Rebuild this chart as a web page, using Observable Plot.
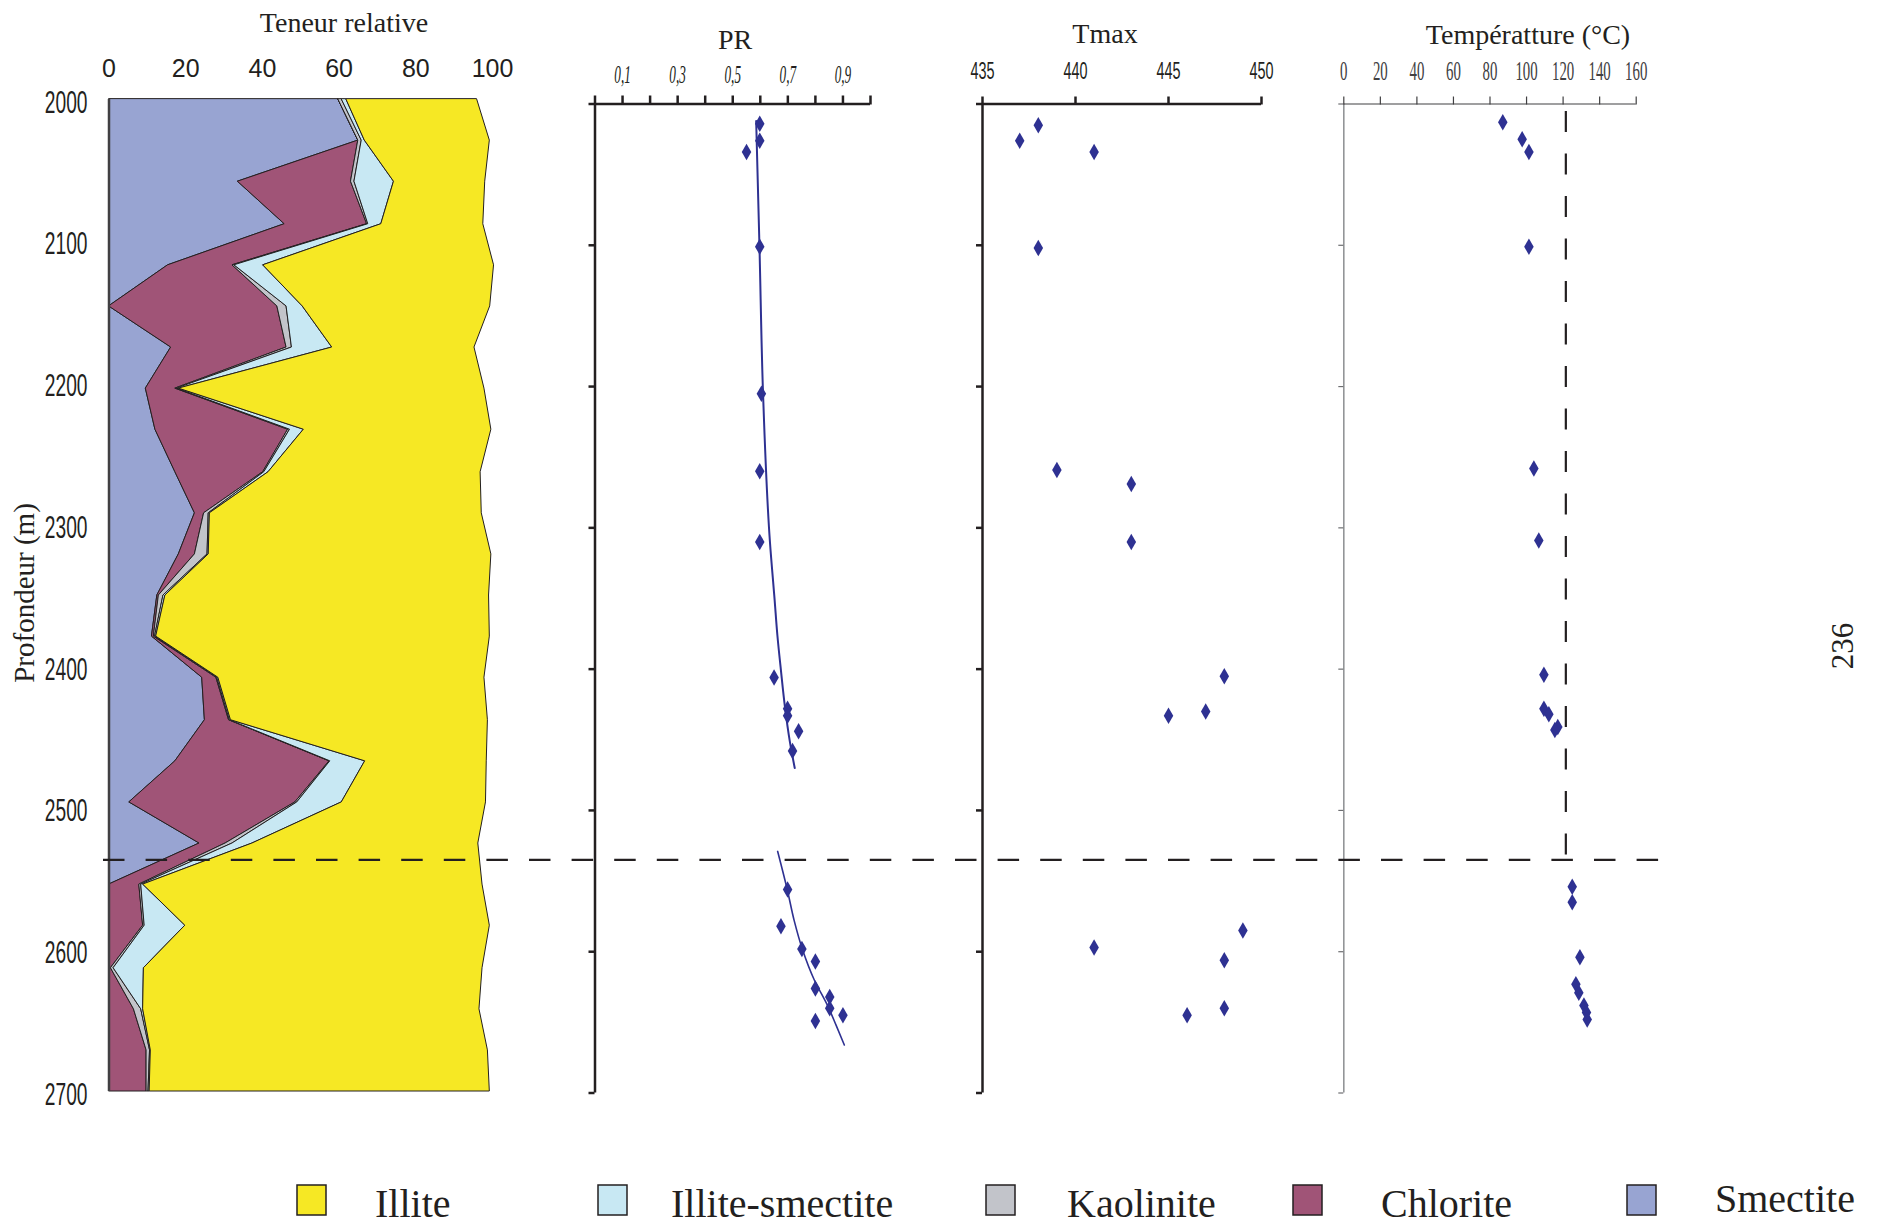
<!DOCTYPE html>
<html><head><meta charset="utf-8">
<script src="https://cdn.jsdelivr.net/npm/d3@7"></script>
<script src="https://cdn.jsdelivr.net/npm/@observablehq/plot@0.6"></script>
<style>
html,body{margin:0;padding:0;background:#fff;}
#root{position:relative;width:1880px;height:1225px;overflow:hidden;background:#fff;}
#root svg{position:absolute;left:0;top:0;}
</style></head><body><div id="root"></div>
<script>
// ---------------- DATA ----------------
const depthDomain = [2000, 2700];
const depthTicks = [2000, 2100, 2200, 2300, 2400, 2500, 2600, 2700];
const boundaryDepth = [2535];

// Relative clay content (%)
const depths = [2000, 2029, 2058, 2088, 2117, 2146, 2175, 2204, 2233, 2263, 2292, 2321, 2350, 2379, 2408, 2438, 2467, 2496, 2525, 2554, 2583, 2613, 2642, 2671, 2700];
const minerals = ["Smectite", "Chlorite", "Kaolinite", "Illite-smectite", "Illite"];
const mineralColors = ["#98a4d2", "#a05477", "#c2c4ca", "#c8e8f3", "#f6e824"];
const smectite = [59.8, 65.0, 33.6, 45.8, 15.4, 0, 16.2, 9.6, 12.1, 17.3, 22.4, 18.2, 12.6, 11.2, 24.3, 25.0, 17.3, 5.3, 23.6, 0, 0, 0, 0, 0, 0];
const chlorite = [0, 0, 29.5, 21.5, 16.8, 43.9, 30.1, 7.7, 34.6, 22.9, 2.4, 4.2, 0.4, 0.5, 3.7, 6.3, 40.2, 43.3, 6.8, 7.9, 8.9, 0.5, 6.5, 9.8, 9.8];
const kaolinite = [0.9, 0.9, 0.9, 0.3, 0.5, 2.4, 1.4, 0.4, 0.5, 0.3, 1.2, 3.3, 1.2, 0.3, 0.2, 0.2, 0.2, 0.5, 1.8, 0.5, 0.4, 0.7, 1.9, 0.9, 0.5];
const illiteSmectite = [1.2, 0.8, 10.3, 3.4, 7.5, 4.2, 10.5, 0.5, 3.6, 1.1, 0.3, 0.3, 0.5, 0.3, 0.3, 0.3, 9.1, 11.6, 5.2, 0.5, 10.6, 7.9, 0.5, 0.2, 0.3];
const illite = [34.1, 32.6, 23.8, 26.6, 60.2, 48.9, 37.1, 79.7, 48.9, 55.3, 70.9, 73.7, 84.4, 87.0, 69.4, 67.0, 31.7, 37.6, 58.9, 88.5, 79.4, 88.3, 87.7, 87.9, 88.7];
const teneurTicks = [0, 20, 40, 60, 80, 100];

// PR (vitrinite reflectance)
const prDepth = [2014, 2026, 2034, 2101, 2205, 2260, 2310, 2406, 2428, 2433, 2444, 2458, 2556, 2582, 2598, 2607, 2626, 2632, 2640, 2645, 2649];
const prValues = [0.598, 0.598, 0.55, 0.598, 0.604, 0.598, 0.598, 0.65, 0.699, 0.699, 0.739, 0.717, 0.699, 0.675, 0.751, 0.80, 0.80, 0.852, 0.852, 0.90, 0.80];
const trendUpperDepth = [2012, 2101, 2205, 2310, 2351, 2376, 2401, 2426, 2451, 2470];
const trendUpperPR = [0.585, 0.597, 0.61, 0.635, 0.652, 0.662, 0.675, 0.689, 0.707, 0.725];
const trendLowerDepth = [2529, 2557, 2578, 2599, 2620, 2638, 2652, 2666];
const trendLowerPR = [0.663, 0.699, 0.723, 0.754, 0.796, 0.844, 0.875, 0.905];
const prTicks = [0, 0.1, 0.2, 0.3, 0.4, 0.5, 0.6, 0.7, 0.8, 0.9, 1.0];
const prLabels = [0.1, 0.3, 0.5, 0.7, 0.9];

// Tmax
const tmaxDepth = [2015, 2026, 2034, 2102, 2259, 2269, 2310, 2405, 2430, 2433, 2585, 2597, 2606, 2640, 2645];
const tmaxValues = [438, 437, 441, 438, 439, 443, 443, 448, 447, 445, 449, 441, 448, 448, 446];
const tmaxTicks = [435, 440, 445, 450];

// Temperature
const tempDepth = [2013, 2025, 2034, 2101, 2258, 2309, 2404, 2428, 2432, 2441, 2443, 2554, 2565, 2604, 2623, 2629, 2638, 2643, 2648];
const tempValues = [87, 97.6, 101.3, 101.3, 104, 106.7, 109.5, 109.5, 112.2, 117.1, 115.5, 125, 125, 129.2, 127, 128.6, 131.4, 132.8, 133.2];
const tempTicks = [0, 20, 40, 60, 80, 100, 120, 140, 160];
const tempThreshold = [121.5];

// Legend
const legendOrder = ["Illite", "Illite-smectite", "Kaolinite", "Chlorite", "Smectite"];

// ---------------- LAYOUT ----------------
const W = 1880, H = 1225;
const INK = "#231f20", BLUE = "#2e3192";
const root = document.getElementById("root");

function squeeze(svg, sel, sx) {
  svg.querySelectorAll(sel).forEach(t => {
    const tr = t.getAttribute("transform");
    if (tr && tr.includes("translate")) t.setAttribute("transform", tr + ` scale(${sx},1)`);
    else {
      const x = +t.getAttribute("x") || 0, y = +t.getAttribute("y") || 0;
      t.setAttribute("x", 0); t.setAttribute("y", 0);
      t.setAttribute("transform", `translate(${x},${y}) scale(${sx},1)`);
    }
  });
}
const XL = 'g[aria-label="x-axis tick label"] text';
const YL = 'g[aria-label="y-axis tick label"] text';
function panel(o) {
  const svg = Plot.plot({
    width: W, height: H,
    marginLeft: o.left, marginRight: W - o.right, marginTop: o.top, marginBottom: H - o.bottom,
    x: {domain: o.xDomain, label: null},
    y: {domain: depthDomain, reverse: true, label: null},
    color: o.color,
    style: {background: "transparent", overflow: "visible", fontFamily: "Liberation Sans", color: INK},
    marks: o.marks
  });
  root.appendChild(svg);
  return svg;
}
const pts = (ds, vs, k) => ds.map((d, i) => ({depth: d, [k]: vs[i]}));
const plain = d => String(d);

// Panel 1: stacked relative content
const series = {"Smectite": smectite, "Chlorite": chlorite, "Kaolinite": kaolinite, "Illite-smectite": illiteSmectite, "Illite": illite};
const rows = minerals.flatMap(m => depths.map((d, i) => ({depth: d, mineral: m, value: series[m][i]})));
const p1 = panel({
  left: 108.5, right: 492, top: 99, bottom: 1091, xDomain: [0, 100],
  color: {domain: minerals, range: mineralColors},
  marks: [
    Plot.areaX(rows, {y: "depth", x: "value", fill: "mineral", z: "mineral", order: minerals, stroke: INK, strokeWidth: 1, curve: "linear"}),
    Plot.ruleX([0], {stroke: "#414042", strokeWidth: 2.5}),
    Plot.axisX(teneurTicks, {anchor: "top", label: null, tickSize: 0, tickPadding: 31, lineAnchor: "middle", tickFormat: plain, fontSize: 25, fontFamily: "Liberation Sans", color: INK}),
    Plot.axisY(depthTicks, {anchor: "left", label: null, tickSize: 0, tickPadding: 21.5, dy: 3, tickFormat: plain, fontSize: 32, fontFamily: "Liberation Sans", color: INK})
  ]
});
squeeze(p1, YL, 0.6);

// Panel 2: PR
const p2 = panel({
  left: 594.5, right: 870, top: 103.5, bottom: 1092.5, xDomain: [0, 1],
  marks: [
    Plot.ruleY([depthDomain[0]], {stroke: INK, strokeWidth: 2.5}),
    Plot.ruleX([0], {stroke: INK, strokeWidth: 2.5}),
    Plot.axisX(prTicks, {anchor: "top", label: null, tickSize: 9, tickPadding: 20, strokeWidth: 2.5, lineAnchor: "middle",
      tickFormat: d => prLabels.includes(d) ? d3.format(".1f")(d).replace(".", ",") : "",
      fontSize: 25, fontStyle: "italic", fontFamily: "Liberation Serif", color: INK}),
    Plot.axisY(depthTicks, {anchor: "left", label: null, tickSize: 6, strokeWidth: 2.5, tickFormat: () => "", color: INK}),
    Plot.line(pts(trendUpperDepth, trendUpperPR, "pr"), {x: "pr", y: "depth", stroke: BLUE, strokeWidth: 2, curve: "monotone-y"}),
    Plot.line(pts(trendLowerDepth, trendLowerPR, "pr"), {x: "pr", y: "depth", stroke: BLUE, strokeWidth: 1.6, curve: "monotone-y"}),
    Plot.dot(pts(prDepth, prValues, "pr"), {x: "pr", y: "depth", symbol: "diamond", r: 5, fill: BLUE, stroke: "none"})
  ]
});
squeeze(p2, XL, 0.53);

// Panel 3: Tmax
const p3 = panel({
  left: 982, right: 1261, top: 103.5, bottom: 1092.5, xDomain: [435, 450],
  marks: [
    Plot.ruleY([depthDomain[0]], {stroke: INK, strokeWidth: 2.5}),
    Plot.ruleX([tmaxTicks[0]], {stroke: INK, strokeWidth: 2.5}),
    Plot.axisX(tmaxTicks, {anchor: "top", label: null, tickSize: 8, tickPadding: 24.7, strokeWidth: 2.5, lineAnchor: "middle",
      tickFormat: plain, fontSize: 24, fontFamily: "Liberation Sans", color: INK}),
    Plot.axisY(depthTicks, {anchor: "left", label: null, tickSize: 6, strokeWidth: 2.5, tickFormat: () => "", color: INK}),
    Plot.dot(pts(tmaxDepth, tmaxValues, "t"), {x: "t", y: "depth", symbol: "diamond", r: 5, fill: BLUE, stroke: "none"})
  ]
});
squeeze(p3, XL, 0.6);

// Panel 4: Temperature
const p4 = panel({
  left: 1343.3, right: 1635.7, top: 103.5, bottom: 1092.5, xDomain: [0, 160],
  marks: [
    Plot.ruleX([0], {stroke: "#939598", strokeWidth: 1.6}),
    Plot.ruleY([depthDomain[0]], {stroke: "#414042", strokeWidth: 1.2}),
    Plot.axisX(tempTicks, {anchor: "top", label: null, tickSize: 8, tickPadding: 24.7, strokeWidth: 1.2, lineAnchor: "middle",
      tickFormat: plain, fontSize: 27, fontFamily: "Liberation Serif", color: "#414042"}),
    Plot.axisY(depthTicks, {anchor: "left", label: null, tickSize: 5, strokeWidth: 1.2, tickFormat: () => "", color: "#6d6e71"}),
    Plot.ruleX(tempThreshold, {y1: depthDomain[0], y2: boundaryDepth[0], stroke: INK, strokeWidth: 2.2, strokeDasharray: "21,21.5", strokeDashoffset: 35}),
    Plot.dot(pts(tempDepth, tempValues, "t"), {x: "t", y: "depth", symbol: "diamond", r: 5, fill: BLUE, stroke: "none"})
  ]
});
squeeze(p4, XL, 0.55);

// Overlay: horizontal dashed boundary across all panels
const ov = Plot.plot({
  width: W, height: H, marginLeft: 103, marginRight: W - 1659, marginTop: 103.5, marginBottom: H - 1092.5,
  y: {domain: depthDomain, reverse: true, axis: null},
  style: {background: "transparent", overflow: "visible"},
  marks: [Plot.ruleY(boundaryDepth, {stroke: INK, strokeWidth: 2.2, strokeDasharray: "21.5,21.1"})]
});
root.appendChild(ov);

// Titles, axis title, page number, legend
const ann = d3.select(root).append("svg").attr("width", W).attr("height", H)
  .style("font-family", "Liberation Serif").style("fill", INK);
const titles = [
  ["Teneur relative", 344, 32], ["PR", 735, 49], ["Tmax", 1105, 43], ["Températture (°C)", 1528, 44]
];
titles.forEach(([t, x, y]) => ann.append("text").attr("x", x).attr("y", y).attr("text-anchor", "middle").attr("font-size", 28).text(t));
ann.append("text").attr("transform", "translate(34,593) rotate(-90)").attr("text-anchor", "middle").attr("font-size", 29).text("Profondeur (m)");
ann.append("text").attr("transform", "translate(1853,646) rotate(-90)").attr("text-anchor", "middle").attr("font-size", 31).text("236");

const swatchX = [297, 598, 986, 1293, 1627];
const labelX = [375, 671, 1067, 1381, 1715];
const labelBase = [1217, 1217, 1217, 1217, 1212];
legendOrder.forEach((m, i) => {
  ann.append("rect").attr("x", swatchX[i]).attr("y", 1185).attr("width", 29).attr("height", 30)
    .attr("fill", mineralColors[minerals.indexOf(m)]).attr("stroke", INK).attr("stroke-width", 1.5);
  ann.append("text").attr("x", labelX[i]).attr("y", labelBase[i]).attr("font-size", 40).text(m);
});
</script>
</body></html>
